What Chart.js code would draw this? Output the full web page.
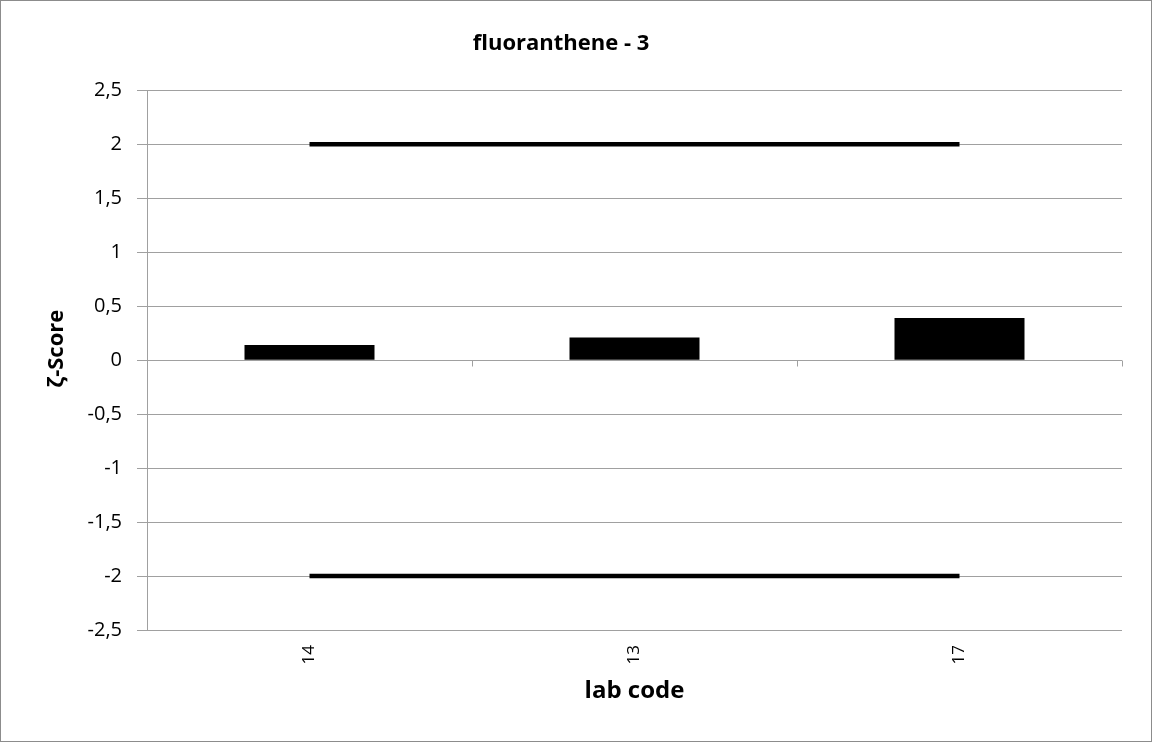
<!DOCTYPE html>
<html>
<head>
<meta charset="utf-8">
<title>fluoranthene - 3</title>
<script src="https://cdn.jsdelivr.net/npm/chart.js@4/dist/chart.umd.min.js"></script>
<style>
  html, body { margin: 0; padding: 0; background: #fff; }
  #wrap { width: 1152px; height: 742px; position: relative; }
</style>
</head>
<body>
<div id="wrap"><canvas id="zChart"></canvas></div>
<script>
// data
var labCodes = ["14", "13", "17"];
var zScores = [0.14, 0.21, 0.39];
var upperLimit = [2, 2, 2];
var lowerLimit = [-2, -2, -2];
var yTicks = [-2.5, -2, -1.5, -1, -0.5, 0, 0.5, 1, 1.5, 2, 2.5];

var gridGrey = "#a0a0a0";
var fontFamily = "'Open Sans', Lato, sans-serif";

// zero axis line with tick marks between categories, plus the chart border
var excelBits = {
  id: "excelBits",
  afterDatasetsDraw: function (chart) {
    var ctx = chart.ctx;
    var x = chart.scales.x, y = chart.scales.y;
    var y0 = Math.round(y.getPixelForValue(0)) + 0.5;
    ctx.save();
    ctx.strokeStyle = gridGrey;
    ctx.lineWidth = 1;
    ctx.beginPath();
    ctx.moveTo(x.left, y0);
    ctx.lineTo(x.right, y0);
    for (var i = 0; i <= labCodes.length; i++) {
      var px = Math.round(x.getPixelForValue(i - 0.5)) + 0.5;
      ctx.moveTo(px, y0);
      ctx.lineTo(px, y0 + 6);
    }
    ctx.stroke();
    ctx.restore();
  },
  afterDraw: function (chart) {
    var ctx = chart.ctx;
    ctx.save();
    ctx.strokeStyle = "#8c8c8c";
    ctx.lineWidth = 1;
    ctx.strokeRect(0.5, 0.5, chart.width - 1, chart.height - 1);
    ctx.restore();
  }
};

var ctx = document.getElementById("zChart").getContext("2d");
var zChart = new Chart(ctx, {
  type: "bar",
  data: {
    labels: labCodes,
    datasets: [
      {
        type: "line",
        label: "upper",
        data: upperLimit,
        borderColor: "#000",
        borderWidth: 4.5,
        pointRadius: 0,
        fill: false,
        order: 0
      },
      {
        type: "line",
        label: "lower",
        data: lowerLimit,
        borderColor: "#000",
        borderWidth: 4.5,
        pointRadius: 0,
        fill: false,
        order: 0
      },
      {
        label: "z-score",
        data: zScores,
        backgroundColor: "#000",
        borderColor: "#000",
        borderWidth: 0,
        categoryPercentage: 1,
        barPercentage: 0.4,
        order: 1
      }
    ]
  },
  options: {
    responsive: true,
    maintainAspectRatio: false,
    animation: false,
    layout: { padding: { left: 0, right: 30, top: 0, bottom: 0 } },
    plugins: {
      legend: { display: false },
      tooltip: { enabled: false },
      title: {
        display: true,
        text: "fluoranthene - 3",
        color: "#000",
        font: { family: fontFamily, size: 22, weight: "bold", lineHeight: 1.2 },
        padding: { top: 31, bottom: 33 }
      }
    },
    scales: {
      x: {
        offset: true,
        grid: { display: false, drawTicks: false },
        border: { display: false },
        ticks: {
          color: "#000",
          font: { family: fontFamily, size: 17 },
          minRotation: 90,
          maxRotation: 90,
          padding: 15
        },
        title: {
          display: true,
          text: "lab code",
          color: "#000",
          font: { family: fontFamily, size: 24, weight: "bold", lineHeight: 1.2 },
          padding: { top: 0, bottom: 36 }
        },
        afterFit: function (scale) { scale.height = 112; }
      },
      y: {
        min: -2.5,
        max: 2.5,
        afterBuildTicks: function (scale) {
          scale.ticks = yTicks.map(function (v) { return { value: v }; });
        },
        grid: { color: gridGrey, lineWidth: 1, tickLength: 10, drawTicks: true },
        border: { display: true, color: gridGrey, width: 1 },
        ticks: {
          color: "#000",
          font: { family: fontFamily, size: 20 },
          padding: 15,
          callback: function (v) { return String(v).replace(".", ","); }
        },
        title: {
          display: true,
          text: "\u00a0\u00a0\u00a0\u00a0ζ-Score",
          color: "#000",
          font: { family: fontFamily, size: 22, weight: "bold", lineHeight: 1.2 },
          padding: { top: 44, bottom: 0 }
        },
        afterFit: function (scale) { scale.width = 147; }
      }
    }
  },
  plugins: [excelBits]
});
</script>
</body>
</html>
